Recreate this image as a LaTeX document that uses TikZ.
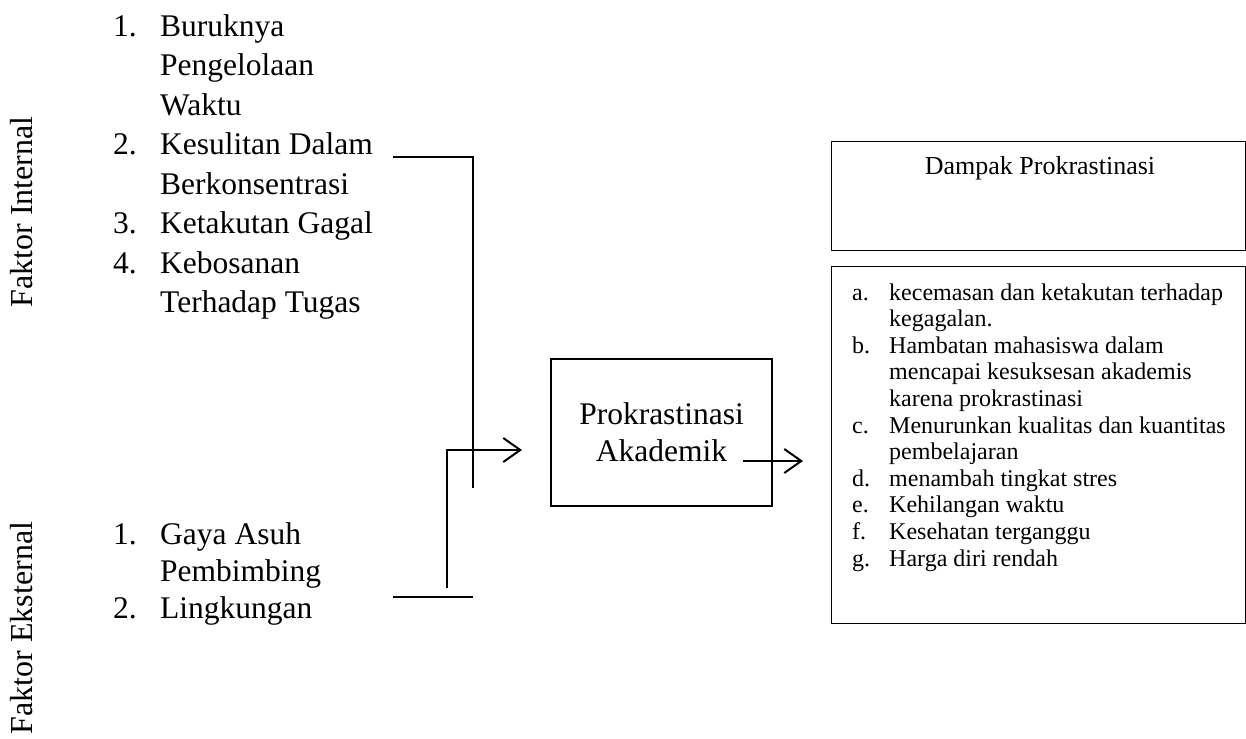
\documentclass[tikz,border=0pt]{standalone}
\usepackage{fontspec}
\setmainfont{Liberation Serif}
\usetikzlibrary{arrows.meta,positioning}
\newcommand{\nr}[2][47pt]{\makebox[#1][l]{#2}}
\newcommand{\ind}[1][47pt]{\hspace*{#1}}

\begin{document}
\begin{tikzpicture}[x=1pt, y=-1pt,
		big/.style={font=\fontsize{31.5}{39.5}\selectfont, inner sep=0pt, align=left},
		small/.style={font=\fontsize{24}{26.6}\selectfont, inner sep=0pt, align=left},
		side/.style={font=\fontsize{32}{36}\selectfont, inner sep=0pt, rotate=90},
		box/.style={draw, line width=1.3pt},
		conn/.style={line width=2pt},
		arr/.style={conn, -{Straight Barb[length=17pt, width=24pt, line width=2pt]}}]
	\useasboundingbox (0,0) rectangle (1246,738);
	
	% faktor
	\node[side] (internal) at (22,212) {Faktor Internal};
	\node[side] (eksternal) at (22,628) {Faktor Eksternal};
	
	% base = baseline of the last line
	\node[big, anchor=base west] (listInt) at (113,312.5) {%
		\nr{1.}Buruknya\\
		\ind Pengelolaan\\
		\ind Waktu\\
		\nr{2.}Kesulitan Dalam\\
		\ind Berkonsentrasi\\
		\nr{3.}Ketakutan Gagal\\
		\nr{4.}Kebosanan\\
		\ind Terhadap Tugas};
	\node[big, anchor=base west, font=\fontsize{31.5}{37}\selectfont] (listEks) at (113,618) {%
		\nr{1.}Gaya Asuh\\
		\ind Pembimbing\\
		\nr{2.}Lingkungan};
	
	% tengah
	\node[box, minimum width=221pt, minimum height=147pt, big, align=center,
		font=\fontsize{31.5}{37}\selectfont] (prokras) at (661.5,432.5) {Prokrastinasi\\Akademik};
	
	% dampak
	\node[box, anchor=north west, minimum width=414pt, minimum height=109pt] (dampak) at (831,141) {};
	\node[font=\fontsize{26}{30}\selectfont, inner sep=0pt, anchor=base] (dampakLbl) at (1040,175) {Dampak Prokrastinasi};
	\node[box, anchor=north west, minimum width=414pt, minimum height=357pt] (isi) at (831,266) {};
	\node[small, anchor=base west] (listDampak) at (852,566) {%
		\nr[37pt]{a.}kecemasan dan ketakutan terhadap\\
		\ind[37pt]kegagalan.\\
		\nr[37pt]{b.}Hambatan mahasiswa dalam\\
		\ind[37pt]mencapai kesuksesan akademis\\
		\ind[37pt]karena prokrastinasi\\
		\nr[37pt]{c.}Menurunkan kualitas dan kuantitas\\
		\ind[37pt]pembelajaran\\
		\nr[37pt]{d.}menambah tingkat stres\\
		\nr[37pt]{e.}Kehilangan waktu\\
		\nr[37pt]{f.}Kesehatan terganggu\\
		\nr[37pt]{g.}Harga diri rendah};
	
	% garis
	\coordinate (intA) at (393,157);
	\coordinate (intB) at (473,157);
	\coordinate (intC) at (473,488);
	\coordinate (eksA) at (393,597);
	\coordinate (eksB) at (473,597);
	\coordinate (eksC) at (447,588);
	\coordinate (eksD) at (447,450);
	\coordinate (masuk) at (522,450);
	\coordinate (keluarA) at (743,461);
	\coordinate (keluarB) at (803,461);
	
	\draw[conn] (intA) -- (intB) -- (intC);
	\draw[conn] (eksA) -- (eksB);
	\draw[arr] (eksC) -- (eksD) -- (masuk);
	\draw[arr] (keluarA) -- (keluarB);
\end{tikzpicture}
\end{document}
